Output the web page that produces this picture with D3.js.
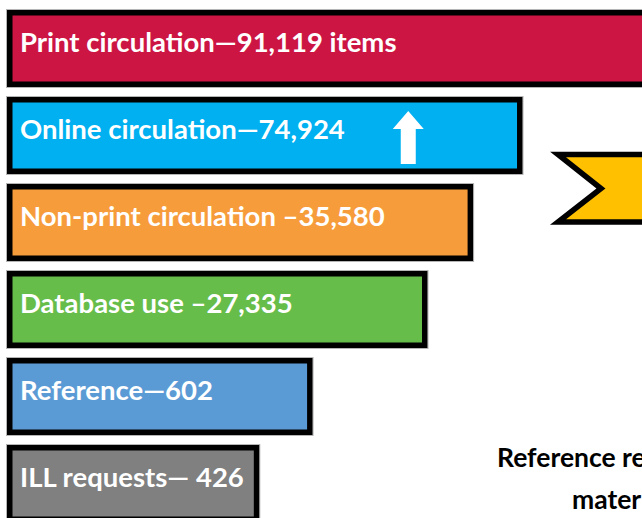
<!DOCTYPE html>
<html>

<head>
    <meta charset="utf-8">
    <script src="https://d3js.org/d3.v7.min.js" charset="utf-8"></script>
    <title>Library usage bars</title>
</head>

<body>
    <style>
        html,
        body {
            margin: 0px;
            padding: 0px;
            overflow: hidden;
            background: #fff;
        }

        #chart svg {
            display: block;
        }
    </style>
    <div id="chart"></div>

    <script>
        // data
        var categories = ["Print circulation", "Online circulation", "Non-print circulation", "Database use", "Reference", "ILL requests"];
        var values = [91119, 74924, 35580, 27335, 602, 426];
        var separators = ["\u2014", "\u2014", " \u2013", " \u2013", "\u2014", "\u2014 "];
        var suffixes = [" items", "", "", "", "", ""];
        // bars are not drawn to value: relative length of each box (percent of page width)
        var barLength = [102, 80.3, 72.6, 65.5, 47.6, 39.3];
        var noteLines = ["Reference requests", "materials"];

        var colors = ["#cc1543", "#00b0f0", "#f79c3b", "#67bd4a", "#5b9bd5", "#808080"];

        var width = 642,
            height = 518,
            border = 5.5;

        var svg = d3.select("#chart").append("svg")
            .attr("width", width)
            .attr("height", height);

        var x = d3.scaleLinear()
            .domain([0, 100])
            .range([7, width + 7]);

        var y = d3.scaleBand()
            .domain(categories)
            .range([10, 522])
            .paddingInner(0.115)
            .paddingOuter(0);

        var rows = categories.map(function (c, i) {
            return { cat: c, value: values[i], len: barLength[i], color: colors[i], sep: separators[i], suffix: suffixes[i] };
        });

        var bar = svg.append("g")
            .selectAll("g")
            .data(rows)
            .enter().append("g")
            .attr("transform", function (d) { return "translate(0," + y(d.cat) + ")"; });

        // faint grey edge round the black frame
        bar.append("rect")
            .attr("x", x(0) - 0.5)
            .attr("y", -0.5)
            .attr("width", function (d) { return x(d.len) - x(0) + 1; })
            .attr("height", y.bandwidth() + 1)
            .attr("fill", "none")
            .attr("stroke", "#b5b5b5")
            .attr("stroke-width", 1);

        bar.append("rect")
            .attr("x", x(0) + border / 2)
            .attr("y", border / 2)
            .attr("width", function (d) { return x(d.len) - x(0) - border; })
            .attr("height", y.bandwidth() - border)
            .attr("fill", function (d) { return d.color; })
            .attr("stroke", "#000")
            .attr("stroke-width", border);

        bar.append("text")
            .attr("x", x(0) + 13)
            .attr("y", 42)
            .attr("fill", "#fff")
            .style("font-family", "Lato, 'Open Sans', sans-serif")
            .style("font-weight", "bold")
            .style("font-size", "27.5px")
            .text(function (d) { return d.cat + d.sep + d3.format(",")(d.value) + d.suffix; });

        // white up arrow inside the online bar
        var bw = y.bandwidth();
        svg.append("path")
            .attr("transform", "translate(" + x(62.5) + "," + y("Online circulation") + ")")
            .attr("d", d3.line()([[0, 14], [15.5, 32], [7.5, 32], [7.5, bw - 10], [-7.5, bw - 10], [-7.5, 32], [-15.5, 32]]) + "Z")
            .attr("fill", "#fff");

        // yellow chevron on the right
        var cy = y("Online circulation");
        svg.append("path")
            .attr("d", d3.line()([[558, cy + 57.5], [width + 20, cy + 57.5], [width + 20, cy + 125], [558, cy + 125], [601, cy + 91.5]]) + "Z")
            .attr("fill", "#ffc000")
            .attr("stroke", "#000")
            .attr("stroke-width", border)
            .attr("stroke-linejoin", "miter");

        // note text, cut by the right edge as in the source
        svg.append("g")
            .selectAll("text")
            .data(noteLines)
            .enter().append("text")
            .attr("x", function (d, i) { return i === 0 ? 497 : 572; })
            .attr("y", function (d, i) { return 467 + i * 41.5; })
            .attr("fill", "#000")
            .style("font-family", "Lato, 'Open Sans', sans-serif")
            .style("font-weight", "bold")
            .style("font-size", "26.5px")
            .text(function (d) { return d; });
    </script>
</body>

</html>
